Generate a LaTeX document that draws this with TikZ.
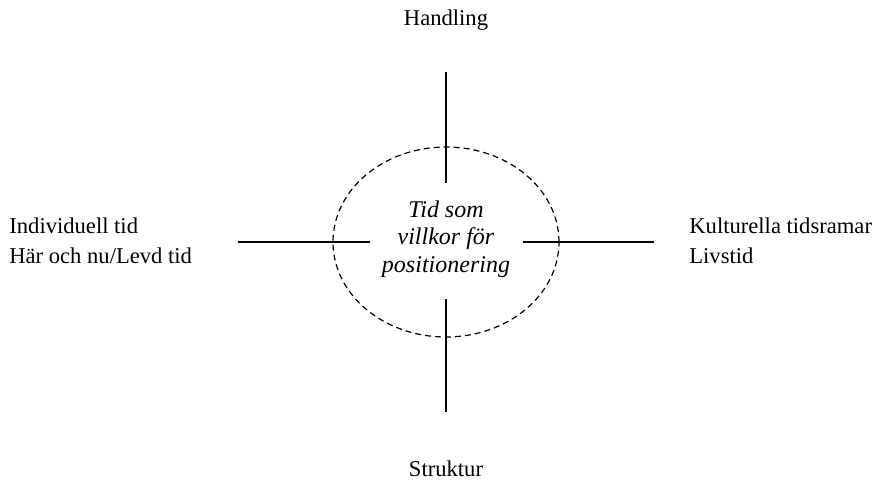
\documentclass[tikz,border=0pt]{standalone}
\usepackage{fontspec}
\setmainfont{Liberation Serif}
\usetikzlibrary{positioning,shapes.geometric}

\begin{document}
\begin{tikzpicture}[x=1pt,y=1pt,font=\fontsize{11.3}{15}\selectfont,
  axis/.style={line width=0.7pt},
  pole/.style={inner sep=0pt,align=left}]
\useasboundingbox (-223,-120) rectangle (216,121);
\node[ellipse,draw,dashed,dash pattern=on 3pt off 2pt,line width=0.6pt,
  minimum width=113pt,minimum height=95pt,inner sep=0pt] (tid) at (0,0) {};
\node[inner sep=0pt,align=center,font=\fontsize{12}{13.75}\selectfont\itshape]
  (tidtext) at ([yshift=1.5pt]tid.center) {Tid som\\villkor för\\positionering};
% axis ends
\coordinate (upA) at (0,85);    \coordinate (upB) at (0,29.5);
\coordinate (dnA) at (0,-28.5); \coordinate (dnB) at (0,-85);
\coordinate (lfA) at (-104,0);  \coordinate (lfB) at (-38,0);
\coordinate (rtA) at (38.5,0);  \coordinate (rtB) at (104,0);
\draw[axis] (upA)--(upB);
\draw[axis] (dnA)--(dnB);
\draw[axis] (lfA)--(lfB);
\draw[axis] (rtA)--(rtB);
% the four poles
\node[pole] (handling) at (0,111) {Handling};
\node[pole] (struktur) at (0,-113.5) {Struktur};
\node[pole,anchor=west] (indiv) at (-218.5,0.5) {Individuell tid\\Här och nu/Levd tid};
\node[pole,anchor=west] (kultur) at (121.5,0.5) {Kulturella tidsramar\\Livstid};
\end{tikzpicture}
\end{document}
